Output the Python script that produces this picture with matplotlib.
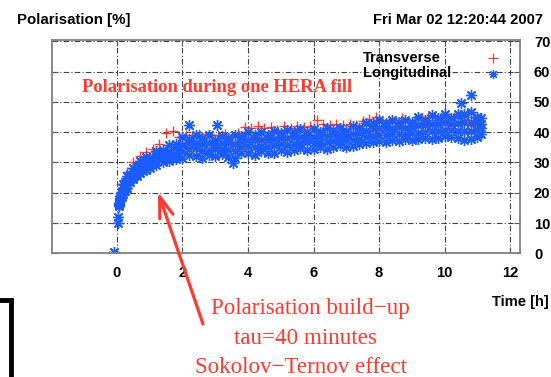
import matplotlib
matplotlib.use("Agg")
import numpy as np
import matplotlib.pyplot as plt
from matplotlib.lines import Line2D

# Longitudinal polarisation: time [h] and four hand-read rows across the point cloud
t_long = [0.06, 0.10, 0.15, 0.20, 0.25, 0.30, 0.40, 0.50, 0.60, 0.70, 0.80, 0.90, 1.00,
          1.2, 1.4, 1.6, 1.8, 2.0, 2.2, 2.4, 2.6, 2.8, 3.0, 3.2, 3.4, 3.6, 3.8, 4.0,
          4.2, 4.4, 4.6, 4.8, 5.0, 5.2, 5.4, 5.6, 5.8, 6.0, 6.2, 6.4, 6.6, 6.8, 7.0,
          7.2, 7.4, 7.6, 7.8, 8.0, 8.2, 8.4, 8.6, 8.8, 9.0, 9.2, 9.4, 9.6, 9.8, 10.0,
          10.2, 10.4, 10.6, 10.8, 11.0, 11.1]
p_long_a = [16.5, 18.8, 20.3, 22.8, 23.6, 25.4, 26.2, 28.3, 28.7, 30.3, 30.2, 31.8, 31.6,
            33.9, 34.1, 35.9, 36.1, 38.3, 37.6, 39.0, 38.1, 38.9, 37.5, 38.8, 38.0, 39.1, 38.6, 40.0,
            39.1, 40.1, 39.0, 40.4, 39.6, 40.6, 40.0, 41.0, 40.2, 41.1, 40.0, 41.4, 40.6, 41.5, 40.5,
            42.0, 41.2, 43.0, 43.0, 44.0, 43.0, 44.1, 43.4, 44.0, 43.5, 45.0, 44.0, 45.5, 44.6, 46.0,
            44.7, 46.0, 46.0, 46.5, 45.0, 44.5]
p_long_b = [16.2, 18.2, 19.8, 21.5, 22.9, 23.8, 25.5, 26.9, 27.8, 28.9, 29.4, 30.1, 30.7,
            32.0, 33.0, 33.9, 34.6, 35.8, 36.5, 36.4, 36.2, 36.3, 36.2, 36.5, 36.3, 36.2, 37.0, 37.5,
            37.3, 37.5, 37.4, 37.8, 38.0, 37.9, 38.3, 38.5, 38.4, 38.5, 38.7, 38.8, 39.0, 39.2, 39.1,
            39.5, 39.7, 40.5, 41.2, 41.3, 41.4, 41.5, 41.7, 41.5, 41.8, 42.2, 42.3, 42.7, 42.6, 43.2,
            42.8, 43.0, 43.5, 43.2, 43.2, 42.8]
p_long_c = [15.8, 17.8, 19.2, 20.5, 21.7, 22.6, 24.4, 25.6, 26.7, 27.6, 28.1, 28.9, 29.3,
            30.5, 31.6, 32.1, 32.9, 33.7, 34.5, 34.6, 33.8, 34.2, 34.3, 34.5, 34.2, 33.8, 35.0, 35.5,
            35.2, 35.5, 35.1, 35.7, 36.0, 35.6, 36.2, 36.5, 36.6, 36.5, 36.8, 36.7, 37.0, 37.3, 37.4,
            37.5, 37.8, 38.5, 38.8, 39.2, 39.1, 39.5, 39.3, 39.5, 39.7, 39.8, 40.2, 40.3, 40.4, 40.8,
            40.7, 40.5, 40.5, 40.3, 40.8, 41.2]
p_long_d = [15.5, 17.5, 18.5, 19.5, 20.5, 21.5, 23.5, 24.5, 25.5, 26.5, 27.0, 27.5, 28.0,
            29.0, 30.0, 30.5, 31.0, 31.5, 32.5, 32.0, 31.5, 32.5, 32.0, 32.8, 31.8, 31.5, 33.0, 33.2,
            32.6, 33.8, 33.0, 33.2, 34.2, 33.5, 34.0, 34.8, 34.2, 34.5, 35.2, 34.3, 35.0, 35.6, 35.2,
            35.5, 36.2, 36.3, 36.6, 37.2, 36.8, 37.5, 37.0, 37.8, 37.3, 37.6, 38.2, 37.8, 38.1, 38.6,
            38.3, 38.0, 37.5, 37.6, 38.5, 39.5]
# isolated longitudinal points
t_long_out = [-0.1, 0.04, 0.04, 2.2, 3.05, 3.55, 10.5, 10.8]
p_long_out = [0.5, 10.0, 12.0, 42.5, 42.3, 29.7, 49.5, 52.2]

# Transverse polarisation: upper and inner rows
t_trans = [0.15, 0.3, 0.5, 0.7, 0.9, 1.1, 1.3, 1.5, 1.7, 1.9, 2.1, 2.3, 2.5, 2.7, 2.9,
           3.1, 3.3, 3.5, 3.7, 3.9, 4.1, 4.3, 4.5, 4.7, 4.9, 5.1, 5.3, 5.5, 5.7, 5.9,
           6.1, 6.3, 6.5, 6.7, 6.9, 7.1, 7.3, 7.5, 7.7, 7.9, 8.1, 8.3, 8.5, 8.7, 8.9,
           9.1, 9.3, 9.5, 9.7, 9.9, 10.1, 10.3, 10.5, 10.7, 10.9]
p_trans_hi = [21.5, 26.8, 30.2, 32.0, 33.5, 34.3, 36.0, 39.6, 40.5, 38.5, 39.0, 38.5, 39.5, 38.5, 39.2,
              39.0, 39.5, 38.5, 39.8, 41.6, 41.2, 42.1, 41.2, 41.8, 40.7, 42.1, 41.2, 42.1, 41.7, 42.1,
              44.0, 42.7, 42.2, 42.6, 42.2, 42.6, 42.2, 43.6, 44.3, 45.0, 43.5, 44.0, 43.0, 44.5, 43.5,
              44.0, 44.5, 45.0, 44.0, 45.0, 44.5, 45.0, 44.5, 45.0, 44.0]
p_trans_lo = [19.5, 23.5, 26.5, 28.5, 29.5, 31.0, 32.0, 33.5, 34.5, 35.0, 36.0, 36.5, 36.0, 36.5, 36.0,
              36.5, 36.5, 36.0, 36.5, 37.5, 37.5, 37.5, 37.5, 38.0, 38.0, 38.0, 38.5, 38.5, 38.5, 38.5,
              39.0, 39.0, 39.0, 39.5, 39.5, 39.5, 40.0, 40.0, 40.5, 41.0, 41.5, 41.5, 41.5, 42.0, 41.5,
              42.0, 42.0, 42.5, 42.5, 43.0, 42.5, 42.5, 43.0, 42.5, 42.0]

x_ticks = [0, 2, 4, 6, 8, 10, 12]
y_ticks = [0, 10, 20, 30, 40, 50, 60, 70]
series_names = ['Transverse', 'Longitudinal']

RED = '#ff3a2e'
BLUE = '#1a5cff'
ASTER = (8, 2, 0)
sans = ['Liberation Sans', 'DejaVu Sans']
serif = ['Liberation Serif', 'DejaVu Serif']

fig = plt.figure(figsize=(5.51, 3.77), dpi=100)
ax = fig.add_axes([52/551, 1-253.3/377, 468/551, 213.3/377])

t_all = np.concatenate([t_trans, t_trans])
p_all = np.concatenate([p_trans_lo, p_trans_hi])
ax.plot(t_all, p_all, linestyle='none', marker='+', ms=7, mew=1.0, color=RED)

tl = np.concatenate([t_long]*4 + [t_long_out])
pl = np.concatenate([p_long_d, p_long_c, p_long_b, p_long_a, p_long_out])
ax.plot(tl, pl, linestyle='none', marker=ASTER, ms=8, mew=1.0, color=BLUE)

ax.set_xlim(-1.98, 12.3)
ax.set_ylim(0, 70.4)
ax.set_xticks(x_ticks)
ax.set_yticks(y_ticks)
ax.yaxis.tick_right()
ax.tick_params(axis='both', direction='in', length=4, width=0.8, color='#555555',
               top=True, left=True, right=True, labelsize=10.6)
ax.tick_params(axis='x', pad=9)
ax.tick_params(axis='y', pad=10)
for lab in ax.get_xticklabels() + ax.get_yticklabels():
    lab.set_family(sans)
    lab.set_fontweight('bold')
ax.grid(True, color='#404040', linewidth=0.8, linestyle=(0, (5, 2, 1, 2)))
for sp in ax.spines.values():
    sp.set_color('#808080')
    sp.set_linewidth(1.3)

# key: labels left-aligned, samples to the right
for name, ypx, mk, col in zip(series_names, [57.5, 73.5], ['+', ASTER], [RED, BLUE]):
    fig.text(363/551, 1-ypx/377, name, family=sans, weight='bold', size=10.6,
             ha='left', va='center')
    fig.add_artist(Line2D([493/551], [1-ypx/377], transform=fig.transFigure,
                          linestyle='none', marker=mk, ms=6.5, mew=0.9, color=col))

fig.text(17/551, 1-20/377, 'Polarisation [%]', family=sans, weight='bold', size=10.8,
         ha='left', va='center')
fig.text(543/551, 1-20/377, 'Fri Mar 02 12:20:44 2007', family=sans, weight='bold', size=10.6,
         ha='right', va='center')
fig.text(492/551, 1-302/377, 'Time [h]', family=sans, weight='bold', size=10.6,
         ha='left', va='center')

fig.text(82/551, 1-88/377, 'Polarisation during one HERA fill', family=serif, weight='bold',
         size=13.3, color=RED, ha='left', va='center')
fig.text(310/551, 1-314/377, 'Polarisation build\u2212up', family=serif, size=16.6,
         color=RED, ha='center', va='baseline')
fig.text(305/551, 1-343.5/377, 'tau=40 minutes', family=serif, size=16.6,
         color=RED, ha='center', va='baseline')
fig.text(301/551, 1-373/377, 'Sokolov\u2212Ternov effect', family=serif, size=16.6,
         color=RED, ha='center', va='baseline')

ax.annotate('', xy=(158/551, 1-192/377), xytext=(203/551, 1-324/377),
            xycoords='figure fraction', textcoords='figure fraction',
            arrowprops=dict(arrowstyle='->,head_length=1.5,head_width=0.5', color=RED,
                            lw=2.3, shrinkA=0, shrinkB=0, mutation_scale=10),
            annotation_clip=False)

fig.add_artist(Line2D([0, 11/551, 11/551], [1-300/377, 1-300/377, 0],
                      transform=fig.transFigure, color='black', linewidth=3.5,
                      solid_joinstyle='miter'))

fig.savefig('out.png', dpi=100)
